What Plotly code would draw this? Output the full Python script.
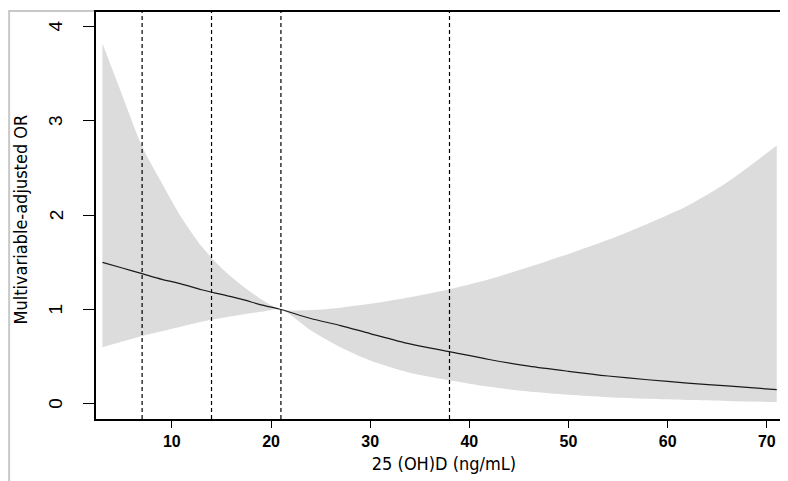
import plotly.graph_objects as go

# Data
vitd = [3, 5, 7, 9, 11, 13, 15, 17, 19, 21, 24, 27, 30, 34, 38, 42, 46, 50, 54, 58, 62, 66, 71]
or_est = [1.50, 1.44, 1.38, 1.32, 1.27, 1.21, 1.16, 1.11, 1.05, 1.00, 0.905, 0.83, 0.745,
          0.635, 0.553, 0.47, 0.40, 0.345, 0.295, 0.255, 0.22, 0.19, 0.15]
or_upper = [3.82, 3.27, 2.73, 2.34, 1.97, 1.67, 1.44, 1.26, 1.11, 1.00, 0.995, 1.02, 1.06,
            1.13, 1.215, 1.32, 1.45, 1.59, 1.74, 1.91, 2.10, 2.35, 2.74]
or_lower = [0.60, 0.66, 0.72, 0.77, 0.82, 0.87, 0.91, 0.945, 0.975, 1.00, 0.78, 0.60, 0.46,
            0.33, 0.25, 0.18, 0.13, 0.095, 0.07, 0.053, 0.04, 0.03, 0.02]
cutpoints = [7, 14, 21, 38]
x_ticks = [10, 20, 30, 40, 50, 60, 70]
y_ticks = [0, 1, 2, 3, 4]
x_title = "25 (OH)D (ng/mL)"
y_title = "Multivariable-adjusted OR"

fig = go.Figure()
fig.add_trace(go.Scatter(x=vitd, y=or_upper, mode="lines", line=dict(width=0, shape="spline", smoothing=0.8),
                         hoverinfo="skip", showlegend=False))
fig.add_trace(go.Scatter(x=vitd, y=or_lower, mode="lines", line=dict(width=0, shape="spline", smoothing=0.8),
                         fill="tonexty", fillcolor="#dcdcdc", hoverinfo="skip", showlegend=False))
fig.add_trace(go.Scatter(x=vitd, y=or_est, mode="lines",
                         line=dict(color="#1a1a1a", width=1.2, shape="spline", smoothing=0.8),
                         showlegend=False))

for c in cutpoints:
    fig.add_shape(type="line", xref="x", yref="paper", x0=c, x1=c, y0=0, y1=1,
                  line=dict(color="black", width=1.2, dash="4px,3px"))

# outer light frame
fig.add_shape(type="rect", xref="paper", yref="paper", x0=-0.1248, x1=1.0029, y0=-0.166, y1=1.0024,
              line=dict(color="#c8c8c8", width=2), layer="below")

xtickfont = dict(family="Liberation Sans, Arial, sans-serif", size=16, color="black", weight="bold")
ytickfont = dict(family="Liberation Sans, Arial, sans-serif", size=19, color="black")
titlefont = dict(family="Liberation Sans Narrow, DejaVu Sans Condensed, sans-serif", size=18, color="black")

# y tick labels (rotated, R style)
for v in y_ticks:
    fig.add_annotation(xref="paper", yref="y", x=0, y=v, text=str(v), showarrow=False,
                       textangle=-90, xanchor="center", yanchor="middle", xshift=-40,
                       font=ytickfont)
fig.add_annotation(xref="paper", yref="paper", x=0, y=0.49, text=y_title, showarrow=False,
                   textangle=-90, xanchor="center", yanchor="middle", xshift=-75, font=titlefont)

fig.update_layout(
    width=788, height=481,
    margin=dict(l=88, r=3, t=2, b=70),
    paper_bgcolor="white", plot_bgcolor="white",
    xaxis=dict(range=[2.35, 72.54], tickvals=x_ticks, ticks="outside", ticklen=7, tickwidth=1,
               tickcolor="black", tickfont=xtickfont, showgrid=False, zeroline=False,
               showline=True, linecolor="black", linewidth=1.5, mirror=True,
               title=dict(text=x_title, font=titlefont, standoff=8)),
    yaxis=dict(range=[-0.161, 4.155], tickvals=y_ticks, ticks="outside", ticklen=11, tickwidth=1,
               tickcolor="black", showticklabels=False, showgrid=False, zeroline=False,
               showline=True, linecolor="black", linewidth=1.5, mirror=True),
)

fig.write_html("out.html")
